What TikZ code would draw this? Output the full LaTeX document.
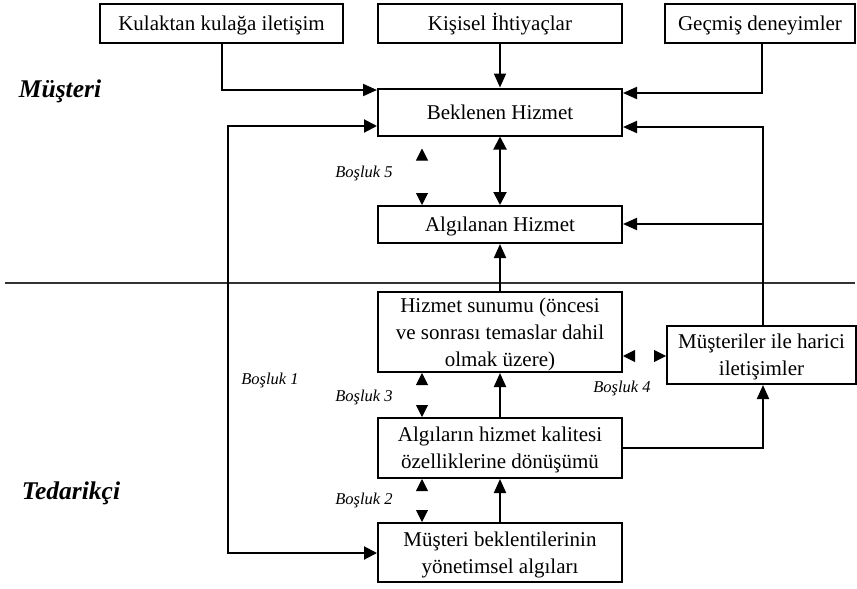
\documentclass[tikz,border=0pt]{standalone}
\usepackage{fontspec}
\setmainfont{Liberation Serif}
\usetikzlibrary{arrows.meta}
\tikzset{
  box/.style={draw, line width=2pt, inner sep=0pt, align=center, text depth=0pt,
    font=\fontsize{21}{27}\selectfont},
  box1/.style={box, text height=14pt},
  arr/.style={line width=2pt, -{Triangle[length=14pt,width=12pt]}},
  arrboth/.style={line width=2pt, {Triangle[length=13pt,width=13pt]}-{Triangle[length=13pt,width=13pt]}},
  gaparr/.style={line width=1pt, dash pattern=on 0pt off 1000pt,
    {Triangle[length=12pt,width=12pt]}-{Triangle[length=12pt,width=12pt]}},
  gaplabel/.style={font=\fontsize{16.5}{20}\selectfont\itshape, inner sep=0pt},
  side/.style={font=\fontsize{25.5}{30}\selectfont\bfseries\itshape, inner sep=0pt},
  divider/.style={line width=2pt, draw=black!80}
}
\begin{document}
\begin{tikzpicture}[x=1pt,y=-1pt]
\useasboundingbox (0,0) rectangle (857,589);
% boxes
\node[box1, minimum width=243pt, minimum height=39pt] (kulak) at (221.5,23.5) {Kulaktan kulağa iletişim};
\node[box1, minimum width=244pt, minimum height=39pt] (kisisel) at (500,23.5) {Kişisel İhtiyaçlar};
\node[box1, minimum width=190pt, minimum height=39pt] (gecmis) at (760,23.5) {Geçmiş deneyimler};
\node[box1, minimum width=244pt, minimum height=47pt] (bek) at (500,112) {Beklenen Hizmet};
\node[box1, minimum width=244pt, minimum height=37pt] (alg) at (500,224.5) {Algılanan Hizmet};
\node[box, minimum width=244pt, minimum height=80pt] (sunum) at (500,332) {Hizmet sunumu (öncesi\\ve sonrası temaslar dahil\\olmak üzere)};
\node[box, minimum width=189pt, minimum height=58pt] (harici) at (761.5,355) {Müşteriler ile harici\\iletişimler};
\node[box, minimum width=244pt, minimum height=60pt] (donusum) at (500,448) {Algıların hizmet kalitesi\\özelliklerine dönüşümü};
\node[box, minimum width=244pt, minimum height=59pt] (yonetim) at (500,552.5) {Müşteri beklentilerinin\\yönetimsel algıları};
% side labels
\node[side] (musteri) at (60,91) {Müşteri};
\node[side] (tedarikci) at (71,493) {Tedarikçi};
% gap labels
\node[gaplabel] (g5) at (364,173) {Boşluk 5};
\node[gaplabel] (g1) at (270,380) {Boşluk 1};
\node[gaplabel] (g3) at (364,397) {Boşluk 3};
\node[gaplabel] (g4) at (622,388) {Boşluk 4};
\node[gaplabel] (g2) at (364,500) {Boşluk 2};
% divider
\coordinate (divL) at (5,283);
\coordinate (divR) at (855,283);
\draw[divider] (divL) -- (divR);
% connectors
\coordinate (loop) at (228,300);
\coordinate (branch) at (763,224);
\draw[arr] (kulak.south) |- (bek.west |- 0,90);
\draw[arr] (kisisel.south) -- (bek.north);
\draw[arr] (gecmis.south -| 762,0) |- (bek.east |- 0,93);
\draw[arr] (harici.north -| 763,0) |- (bek.east |- 0,127);
\draw[arr] (branch) -- (alg.east |- branch);
\draw[arrboth] (bek.south) -- (alg.north);
\draw[arr] (sunum.north) -- (alg.south);
\draw[arr] (donusum.north) -- (sunum.south);
\draw[arr] (yonetim.north) -- (donusum.south);
\draw[arr] (donusum.east) -| (harici.south -| 763,0);
\draw[arrboth] (bek.west |- 0,126) -| (loop) |- (yonetim.west |- 0,553);
% gaps
\draw[gaparr] ([yshift=-12pt]bek.south -| 422,0) -- (alg.north -| 422,0);
\draw[gaparr] (sunum.south -| 422,0) -- (donusum.north -| 422,0);
\draw[gaparr] (donusum.south -| 422,0) -- (yonetim.north -| 422,0);
\draw[gaparr] (sunum.east |- 0,356) -- (harici.west |- 0,356);
\end{tikzpicture}
\end{document}
